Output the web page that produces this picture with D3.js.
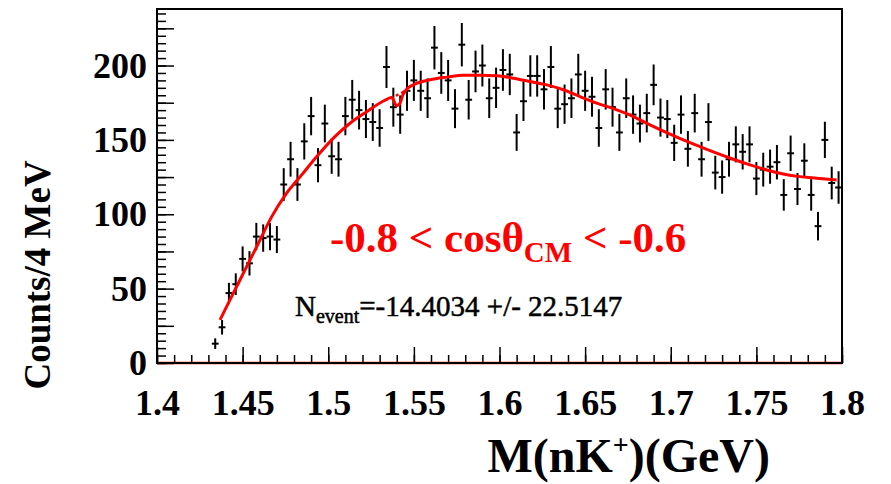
<!DOCTYPE html>
<html>
<head>
<meta charset="utf-8">
<script src="https://cdn.jsdelivr.net/npm/d3@7"></script>
<style>
  html, body { margin: 0; padding: 0; background: #fff; }
  svg text { font-family: "Liberation Serif", "Times New Roman", serif; }
</style>
</head>
<body>
<svg id="chart" width="891" height="484"></svg>
<script>
// bin centres (GeV), 4 MeV bins
const binCenters = [
  1.434, 1.438, 1.442, 1.446, 1.450, 1.454, 1.458, 1.462, 1.466, 1.470,
  1.474, 1.478, 1.482, 1.486, 1.490, 1.494, 1.498, 1.502, 1.506, 1.510,
  1.514, 1.518, 1.522, 1.526, 1.530, 1.534, 1.538, 1.542, 1.546, 1.550,
  1.554, 1.558, 1.562, 1.566, 1.570, 1.574, 1.578, 1.582, 1.586, 1.590,
  1.594, 1.598, 1.602, 1.606, 1.610, 1.614, 1.618, 1.622, 1.626, 1.630,
  1.634, 1.638, 1.642, 1.646, 1.650, 1.654, 1.658, 1.662, 1.666, 1.670,
  1.674, 1.678, 1.682, 1.686, 1.690, 1.694, 1.698, 1.702, 1.706, 1.710,
  1.714, 1.718, 1.722, 1.726, 1.730, 1.734, 1.738, 1.742, 1.746, 1.750,
  1.754, 1.758, 1.762, 1.766, 1.770, 1.774, 1.778, 1.782, 1.786, 1.790,
  1.794, 1.798
];

const counts = [
  13, 24, 47, 53, 70, 67, 85, 84, 85, 83,
  120, 137, 120, 149, 166, 133, 161, 139, 137, 166,
  177, 170, 164, 162, 158, 199, 172, 167, 183, 190,
  183, 178, 212, 195, 190, 171, 214, 177, 196, 200,
  178, 185, 197, 194, 155, 176, 193, 193, 184, 199,
  171, 174, 178, 194, 183, 179, 158, 184, 172, 155,
  178, 167, 161, 168, 187, 165, 164, 148, 167, 144,
  168, 137, 162, 128, 125, 137, 147, 142, 147, 124,
  130, 132, 135, 113, 141, 117, 136, 113, 92, 150,
  121, 118
];

const errors = [
  3.6, 4.9, 6.9, 7.3, 8.4, 8.2, 9.2, 9.2, 9.2, 9.1,
  11.0, 11.7, 11.0, 12.2, 12.9, 11.5, 12.7, 11.8, 11.7, 12.9,
  13.3, 13.0, 12.8, 12.7, 12.6, 14.1, 13.1, 12.9, 13.5, 13.8,
  13.5, 13.3, 14.6, 14.0, 13.8, 13.1, 14.6, 13.3, 14.0, 14.1,
  13.3, 13.6, 14.0, 13.9, 12.4, 13.3, 13.9, 13.9, 13.6, 14.1,
  13.1, 13.2, 13.3, 13.9, 13.5, 13.4, 12.6, 13.6, 13.1, 12.4,
  13.3, 12.9, 12.7, 13.0, 13.7, 12.8, 12.8, 12.2, 12.9, 12.0,
  13.0, 11.7, 12.7, 11.3, 11.2, 11.7, 12.1, 11.9, 12.1, 11.1,
  11.4, 11.5, 11.6, 10.6, 11.9, 10.8, 11.7, 10.6, 9.6, 12.2,
  11.0, 10.9
];

// total fit function (background + signal dip)
const fitX = [1.4368, 1.4426, 1.4514, 1.4592, 1.4670, 1.4757, 1.4845, 1.4933,
  1.5030, 1.5127, 1.5225, 1.5320, 1.5370, 1.5400, 1.5419, 1.5435, 1.5458,
  1.5497, 1.5594, 1.5692, 1.5789, 1.5886, 1.5984, 1.6081, 1.6178, 1.6276,
  1.6373, 1.6470, 1.6568, 1.6665, 1.6781, 1.6879, 1.6976, 1.7073, 1.7170,
  1.7268, 1.7365, 1.7463, 1.7560, 1.7657, 1.7755, 1.7852, 1.7969];
const fitY = [29, 42.4, 62.6, 80.5, 98.4, 114.2, 126.5, 138.8,
  151.2, 161.2, 169, 176, 178.5, 173, 174.7, 180, 184,
  187, 190.4, 192.2, 193.5, 193.5, 193.1, 191.5, 189.2, 187,
  183.7, 179.1, 174.7, 171, 165.7, 160.1, 154.9, 150, 145.5,
  141.1, 137, 133.2, 129.8, 127.1, 125.3, 124.2, 123];

// background-only piece bridging the dip
const bgX = [1.5330, 1.5370, 1.5400, 1.5430, 1.5460];
const bgY = [176.5, 178.5, 180, 181.7, 184];

const xTicks = [1.4, 1.45, 1.5, 1.55, 1.6, 1.65, 1.7, 1.75, 1.8];
const yTicks = [0, 25, 50, 75, 100, 125, 150, 175, 200, 225];

const svg = d3.select("#chart");
const x = d3.scaleLinear().domain([1.4, 1.8]).range([157, 842]);
const y = d3.scaleLinear().domain([0, 238]).range([363, 9]);

// minor ticks
svg.append("g")
  .attr("transform", "translate(157,0)")
  .call(d3.axisLeft(y).tickValues(d3.range(0, 238, 5)).tickSizeInner(-9).tickSizeOuter(0).tickFormat(""))
  .call(g => g.select(".domain").remove())
  .selectAll("line").attr("stroke-width", 1.5);

svg.append("g")
  .attr("transform", "translate(0,363)")
  .call(d3.axisBottom(x).tickValues(d3.range(1.4, 1.8001, 0.01)).tickSizeInner(-8).tickSizeOuter(0).tickFormat(""))
  .call(g => g.select(".domain").remove())
  .selectAll("line").attr("stroke-width", 1.5);

// major ticks + labels
const yAxis = svg.append("g")
  .attr("transform", "translate(157,0)")
  .call(d3.axisLeft(y).tickValues(yTicks).tickSizeInner(-17).tickSizeOuter(0).tickPadding(10)
    .tickFormat(d => d % 50 === 0 ? d : ""))
  .call(g => g.select(".domain").remove());
yAxis.selectAll("line").attr("stroke-width", 1.5);
yAxis.selectAll("text")
  .style("font-family", "Liberation Serif")
  .style("font-size", "36px").style("font-weight", "bold").attr("fill", "#000");

const xAxis = svg.append("g")
  .attr("transform", "translate(0,363)")
  .call(d3.axisBottom(x).tickValues(xTicks).tickSizeInner(-16).tickSizeOuter(0).tickPadding(26)
    .tickFormat(d => +d.toFixed(2)))
  .call(g => g.select(".domain").remove());
xAxis.selectAll("line").attr("stroke-width", 1.5);
xAxis.selectAll("text")
  .style("font-family", "Liberation Serif")
  .style("font-size", "36px").style("font-weight", "bold").attr("fill", "#000");

// zero lines
svg.append("line")
  .attr("x1", x(1.4)).attr("x2", x(1.8)).attr("y1", y(0)).attr("y2", y(0))
  .attr("stroke", "#ff0000").attr("stroke-width", 2.5);
svg.append("line")
  .attr("x1", x(1.4368)).attr("x2", x(1.8)).attr("y1", y(0)).attr("y2", y(0))
  .attr("stroke", "#000").attr("stroke-width", 2).attr("stroke-dasharray", "2,3");

// data points with error bars
const pts = binCenters.map((c, i) => ({ c, n: counts[i], e: errors[i] }));
const pg = svg.append("g").attr("stroke", "#000").attr("stroke-width", 2);
pg.selectAll("line.ey").data(pts).enter().append("line")
  .attr("x1", d => x(d.c)).attr("x2", d => x(d.c))
  .attr("y1", d => y(d.n - d.e)).attr("y2", d => y(d.n + d.e));
pg.selectAll("line.ex").data(pts).enter().append("line")
  .attr("x1", d => x(d.c - 0.002)).attr("x2", d => x(d.c + 0.002))
  .attr("y1", d => y(d.n)).attr("y2", d => y(d.n));

// fit curves
const line = d3.line().x(d => x(d[0])).y(d => y(d[1])).curve(d3.curveMonotoneX);
svg.append("path")
  .datum(bgX.map((v, i) => [v, bgY[i]]))
  .attr("d", line).attr("fill", "none")
  .attr("stroke", "#ff0000").attr("stroke-width", 2.5).attr("stroke-dasharray", "3,3");
svg.append("path")
  .datum(fitX.map((v, i) => [v, fitY[i]]))
  .attr("d", line).attr("fill", "none")
  .attr("stroke", "#ff0000").attr("stroke-width", 3);

// frame
svg.append("rect")
  .attr("x", 157).attr("y", 9).attr("width", 685).attr("height", 354)
  .attr("fill", "none").attr("stroke", "#000").attr("stroke-width", 2);

// labels
const cut = svg.append("text")
  .attr("x", 330).attr("y", 252)
  .attr("fill", "#ff0000").style("font-size", "43px").style("font-weight", "bold");
cut.append("tspan").text("-0.8 < cos\u03B8");
cut.append("tspan").attr("dy", 10).style("font-size", "29px").text("CM");
cut.append("tspan").attr("dy", -10).text(" < -0.6");

const nev = svg.append("text")
  .attr("x", 295).attr("y", 316)
  .attr("fill", "#000").attr("stroke", "#000").attr("stroke-width", 0.5)
  .style("font-size", "29px");
nev.append("tspan").text("N");
nev.append("tspan").attr("dy", 7).style("font-size", "20px").text("event");
nev.append("tspan").attr("dy", -7).text("=-14.4034 +/- 22.5147");

svg.append("text")
  .attr("transform", "translate(50,275) rotate(-90)")
  .attr("text-anchor", "middle")
  .style("font-size", "37px").style("font-weight", "bold")
  .text("Counts/4 MeV");

const xt = svg.append("text")
  .attr("x", 770).attr("y", 472).attr("text-anchor", "end")
  .style("font-size", "48px").style("font-weight", "bold");
xt.append("tspan").text("M(nK");
xt.append("tspan").attr("dy", -18).style("font-size", "28px").text("+");
xt.append("tspan").attr("dy", 18).text(")(GeV)");
</script>
</body>
</html>
